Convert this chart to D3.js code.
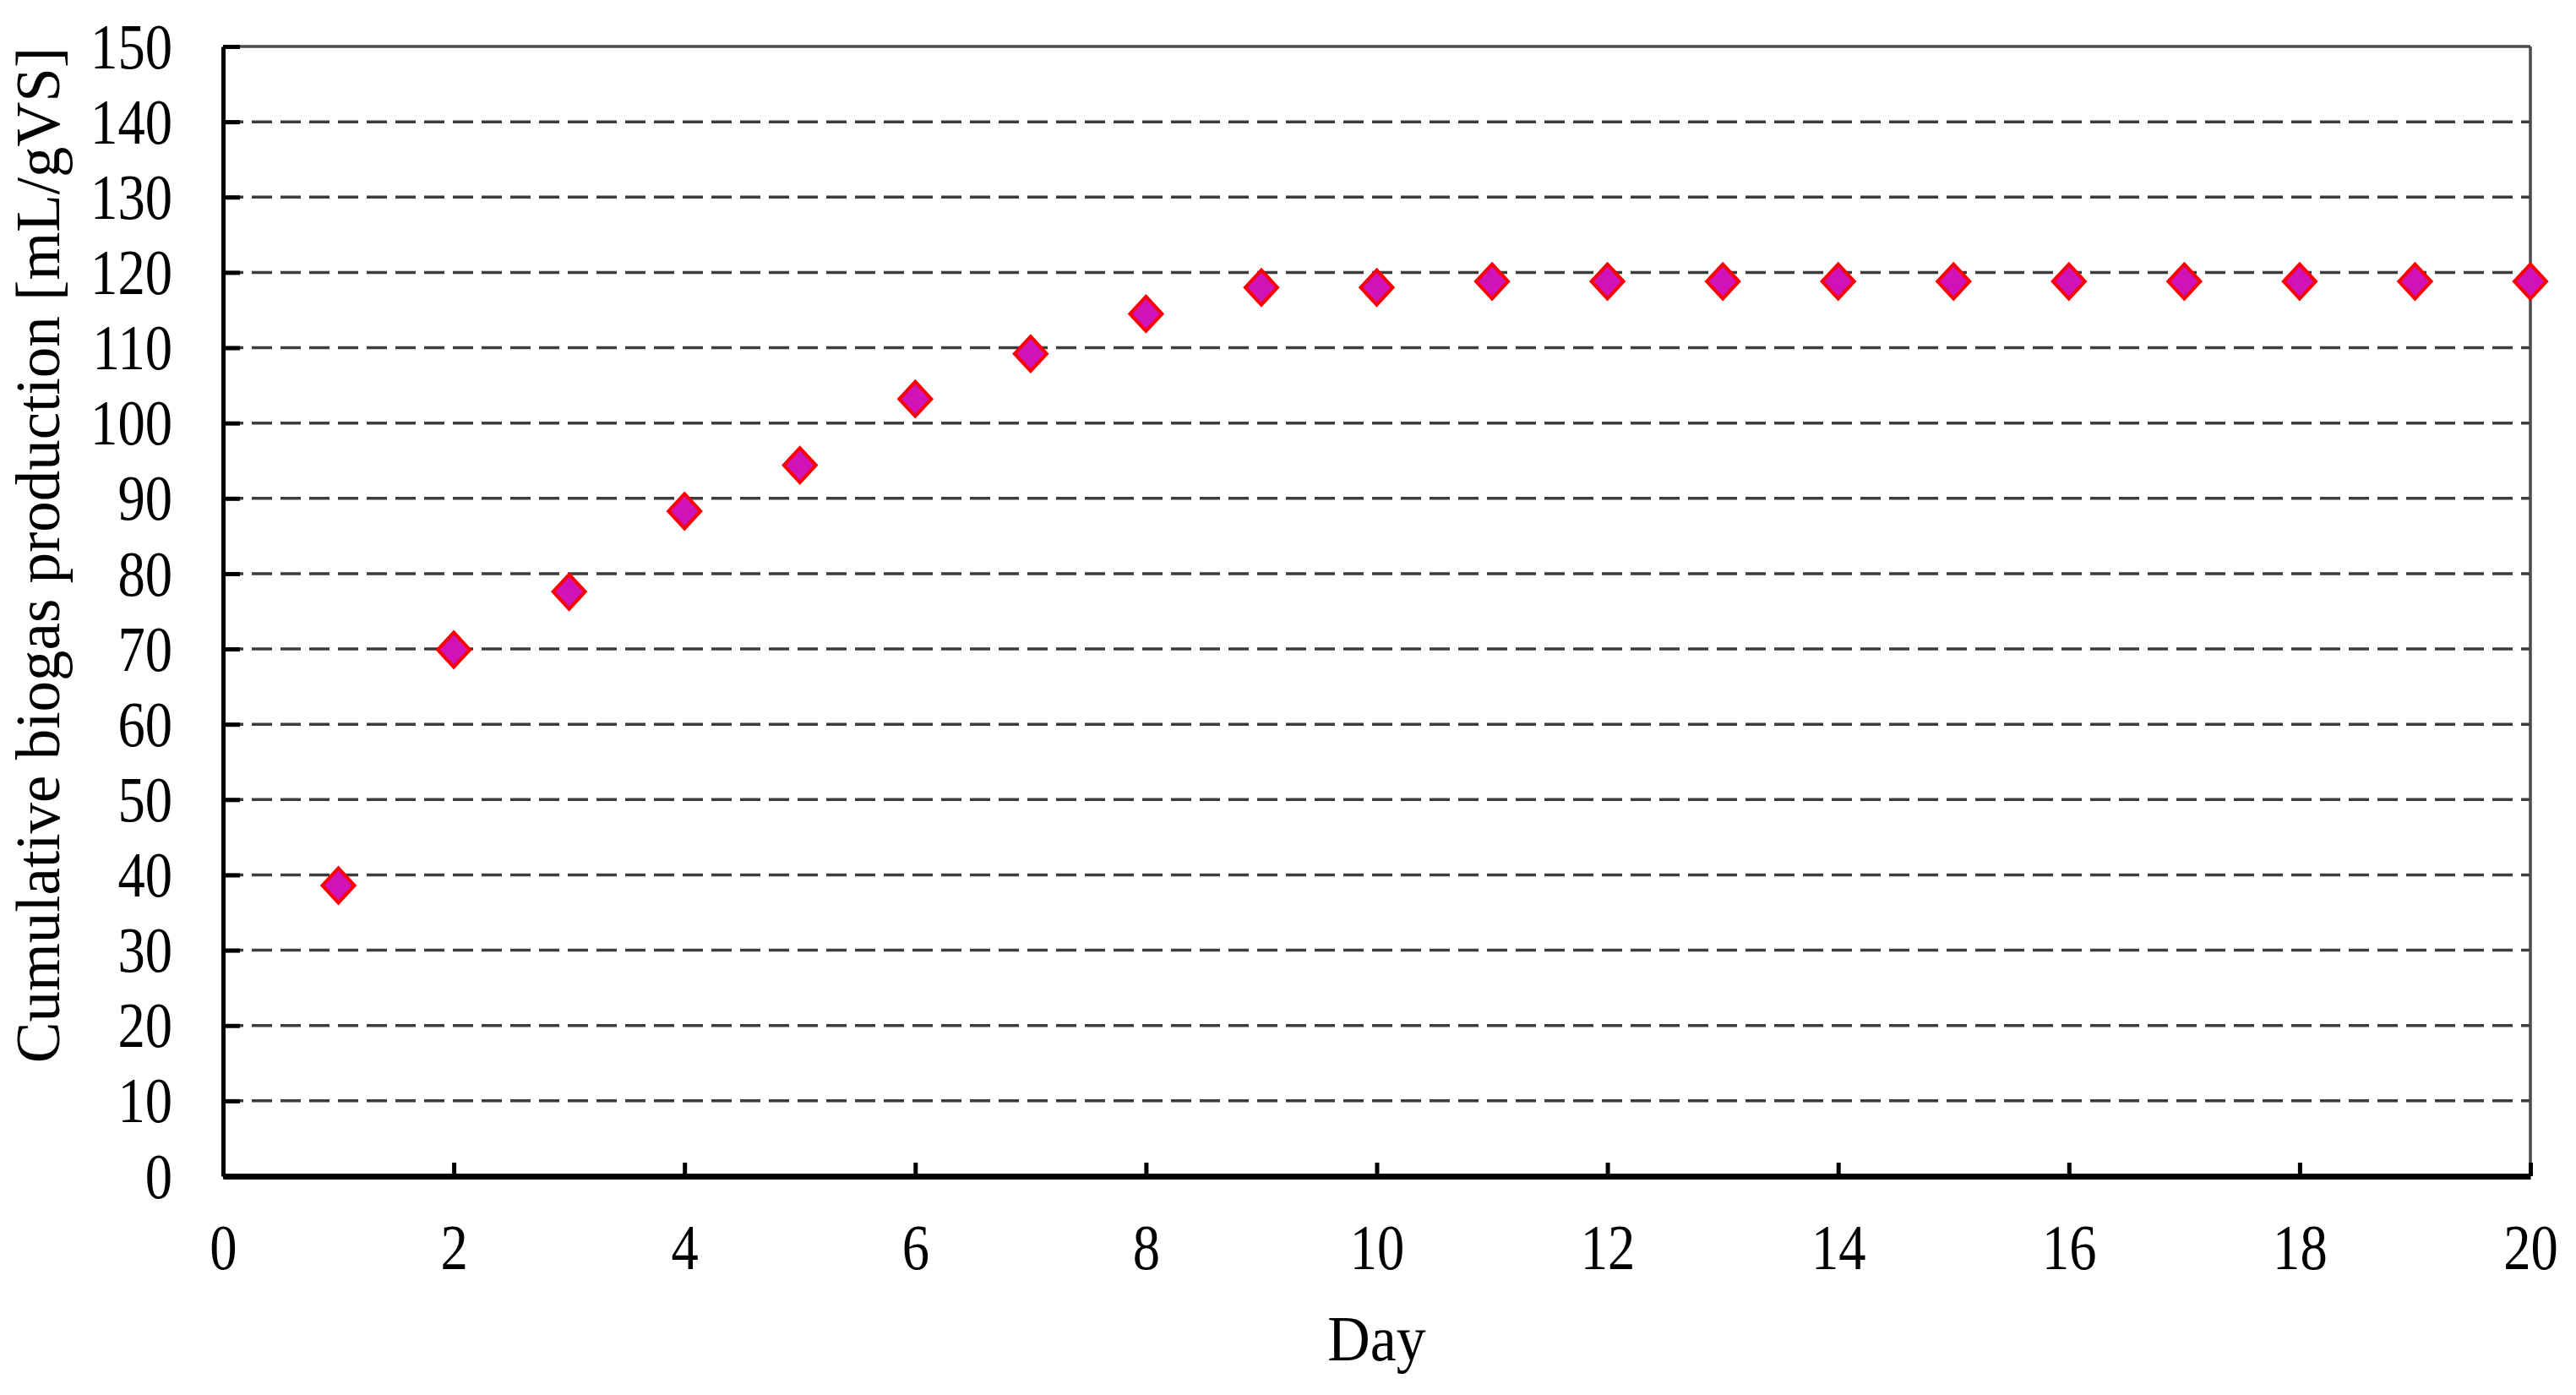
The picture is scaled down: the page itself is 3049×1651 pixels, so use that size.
<!DOCTYPE html>
<html>
<head>
<meta charset="utf-8">
<script src="https://cdn.jsdelivr.net/npm/d3@7"></script>
<style>
    body { margin: 0; background: #fff; }
    text { font-family: "Liberation Serif", "Times New Roman", serif; fill: #000; }
    .axis .domain { stroke: #000; }
    .axis line { stroke: #000; }
    .grid-line { stroke: #3c3c3c; stroke-width: 3.5; stroke-dasharray: 24 10; }
    .frame { stroke: #4a4a4a; stroke-width: 3.5; }
    .marker { fill: #d012b8; stroke: #ff0000; stroke-width: 4; }
</style>
</head>
<body>
<svg id="svg"></svg>
<script>
// data
const days = [1, 2, 3, 4, 5, 6, 7, 8, 9, 10, 11, 12, 13, 14, 15, 16, 17, 18, 19, 20];
const biogas = [38.6, 69.9, 77.6, 88.3, 94.4, 103.2, 109.2, 114.5, 118.0, 118.0,
                118.8, 118.8, 118.8, 118.8, 118.8, 118.8, 118.8, 118.8, 118.8, 118.8];
const xTicks = [0, 2, 4, 6, 8, 10, 12, 14, 16, 18, 20];
const yTicks = [0, 10, 20, 30, 40, 50, 60, 70, 80, 90, 100, 110, 120, 130, 140, 150];
const gridValues = yTicks.filter(v => v > 0 && v < 150);

const width = 3049, height = 1651;
const margin = {top: 55, left: 264, right: 54, bottom: 259};
const innerW = width - margin.left - margin.right;
const innerH = height - margin.top - margin.bottom;
const tickFont = 76, squeeze = 0.85;

const svg = d3.select('#svg')
    .attr('width', width)
    .attr('height', height);

const g = svg.append('g')
    .attr('transform', 'translate(' + margin.left + ',' + margin.top + ')');

const x = d3.scaleLinear().domain([0, 20]).range([0, innerW]);
const y = d3.scaleLinear().domain([0, 150]).range([innerH, 0]);

// dashed gridlines
g.append('g').selectAll('line')
    .data(gridValues)
  .enter().append('line')
    .attr('class', 'grid-line')
    .attr('x1', 0)
    .attr('x2', innerW)
    .attr('y1', d => y(d))
    .attr('y2', d => y(d));

// top and right frame
g.append('line').attr('class', 'frame')
    .attr('x1', 0).attr('x2', innerW).attr('y1', y(150)).attr('y2', y(150));
g.append('line').attr('class', 'frame')
    .attr('x1', x(20)).attr('x2', x(20)).attr('y1', y(150)).attr('y2', y(0));

// y axis, ticks pointing inward
const yAxis = d3.axisLeft(y)
    .tickValues(yTicks)
    .tickSizeInner(-20)
    .tickSizeOuter(0)
    .tickPadding(60);

const yAxisG = g.append('g')
    .attr('class', 'axis axis-y')
    .call(yAxis);
yAxisG.select('.domain').attr('stroke-width', 5);
yAxisG.selectAll('line').attr('stroke-width', 5);
yAxisG.selectAll('text')
    .attr('font-size', tickFont)
    .attr('x', -60 / squeeze)
    .attr('dy', '0.33em')
    .attr('transform', 'scale(' + squeeze + ',1)');

// x axis, ticks pointing up
const xAxis = d3.axisBottom(x)
    .tickValues(xTicks)
    .tickSizeInner(-16)
    .tickSizeOuter(0);

const xAxisG = g.append('g')
    .attr('class', 'axis axis-x')
    .attr('transform', 'translate(0,' + innerH + ')')
    .call(xAxis);
xAxisG.select('.domain').attr('stroke-width', 7);
xAxisG.selectAll('line').attr('stroke-width', 5);
xAxisG.selectAll('text')
    .attr('font-size', tickFont)
    .attr('y', 110)
    .attr('dy', 0)
    .attr('transform', 'scale(' + squeeze + ',1)');

// diamond markers, a little taller than wide
const diamond = {
    draw(ctx, size) {
        const hw = 19, hh = 20.5;
        ctx.moveTo(0, -hh);
        ctx.lineTo(hw, 0);
        ctx.lineTo(0, hh);
        ctx.lineTo(-hw, 0);
        ctx.closePath();
    }
};

g.append('g').selectAll('path')
    .data(days)
  .enter().append('path')
    .attr('class', 'marker')
    .attr('d', d3.symbol().type(diamond))
    .attr('transform', (d, i) => 'translate(' + x(d) + ',' + y(biogas[i]) + ')');

// axis titles
svg.append('text')
    .attr('font-size', 76)
    .attr('text-anchor', 'middle')
    .attr('transform', 'translate(' + (margin.left + x(10)) + ',1610) scale(0.92,1)')
    .text('Day');

svg.append('text')
    .attr('font-size', 73)
    .attr('text-anchor', 'middle')
    .attr('transform', 'translate(70,657) rotate(-90)')
    .text('Cumulative biogas production [mL/gVS]');
</script>
</body>
</html>
